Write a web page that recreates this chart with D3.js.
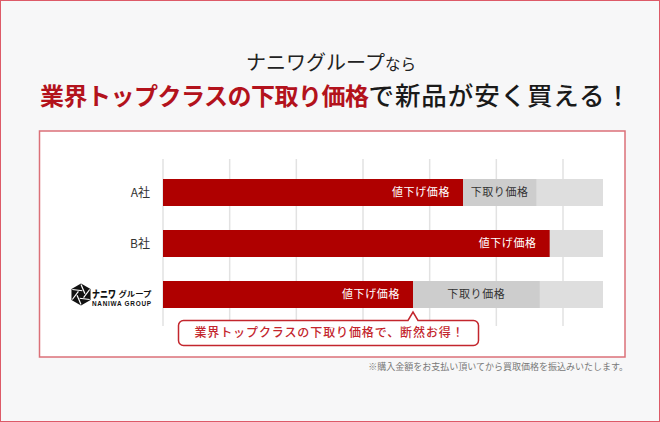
<!DOCTYPE html>
<html><head><meta charset="utf-8">
<script src="https://cdn.jsdelivr.net/npm/d3@7/dist/d3.min.js"></script>
<style>
html,body{margin:0;padding:0;background:#f7f7f8;}
svg{display:block;font-family:"Noto Sans CJK JP","Noto Sans",sans-serif;}
</style></head>
<body>
<svg id="chart" width="660" height="422"></svg>
<script>
// ---- data ----
const categories = ["A社", "B社", "ナニワグループ"];
const discountEnd = [45, 58, 37.5];      // 値下げ価格 (red segment end)
const tradeInEnd  = [56, null, 56.5];    // 下取り価格 (gray segment end)
const trackMax = 66;
const gridTicks = [0, 10, 20, 30, 40, 50, 60];
const discountLabel = "値下げ価格";
const tradeInLabel = "下取り価格";
const titleLine1 = "ナニワグループ";
const titleLine1b = "なら";
const titleRed = "業界トップクラスの下取り価格";
const titleBlack = "で新品が安く買える！";
const calloutText = "業界トップクラスの下取り価格で、断然お得！";
const footnote = "※購入金額をお支払い頂いてから買取価格を振込みいたします。";

const svg = d3.select("#chart");
const W = 660, H = 422;

// background + outer border
svg.append("rect").attr("x",0.5).attr("y",0.5).attr("width",W-1).attr("height",H-1)
  .attr("fill","#f7f7f8").attr("stroke","#dd5a68").attr("stroke-width",1);

// titles
svg.append("text").attr("x",331).attr("y",70).attr("text-anchor","middle")
  .attr("fill","#222").attr("font-size",20).attr("font-weight",400)
  .call(t=>{
    t.append("tspan").text(titleLine1);
    t.append("tspan").attr("font-size",15.5).text(titleLine1b);
  });
svg.append("text").attr("x",40).attr("y",105).attr("text-anchor","start")
  .call(t=>{
    t.append("tspan").attr("fill","#b3121c").attr("font-size",24).attr("font-weight",700)
      .attr("letter-spacing",-0.5).text(titleRed);
    t.append("tspan").attr("fill","#1a1a1a").attr("font-size",25.5).attr("font-weight",500)
      .attr("letter-spacing",0.9).text(titleBlack);
  });

// panel
svg.append("rect").attr("x",39.5).attr("y",131).attr("width",585.5).attr("height",226)
  .attr("fill","#fff").attr("stroke","#db7078").attr("stroke-width",1.5);

// scales
const x = d3.scaleLinear().domain([0, trackMax]).range([163, 603]);
const y = d3.scaleBand().domain(categories).range([179, 308]).paddingInner(24/51).paddingOuter(0);

// grid
svg.append("g").selectAll("line").data(gridTicks).join("line")
  .attr("x1",d=>x(d)).attr("x2",d=>x(d)).attr("y1",159).attr("y2",326)
  .attr("stroke","#e2e2e2").attr("stroke-width",1.5);

const rows = categories.map((c,i)=>({c, d:discountEnd[i], t:tradeInEnd[i]}));
const g = svg.append("g");
// track
g.selectAll("rect.track").data(rows).join("rect").attr("class","track")
  .attr("x",x(0)).attr("y",d=>y(d.c)).attr("width",x(trackMax)-x(0)).attr("height",y.bandwidth())
  .attr("fill","#dedede");
// trade-in segment
g.selectAll("rect.trade").data(rows.filter(d=>d.t!=null)).join("rect").attr("class","trade")
  .attr("x",d=>x(d.d)).attr("y",d=>y(d.c)).attr("width",d=>x(d.t)-x(d.d)).attr("height",y.bandwidth())
  .attr("fill","#cdcdcd");
// discount segment
g.selectAll("rect.disc").data(rows).join("rect").attr("class","disc")
  .attr("x",x(0)).attr("y",d=>y(d.c)).attr("width",d=>x(d.d)-x(0)).attr("height",y.bandwidth())
  .attr("fill","#af0000");
// labels in bars
g.selectAll("text.dl").data(rows).join("text").attr("class","dl")
  .attr("x",d=>x(d.d)-13).attr("y",d=>y(d.c)+y.bandwidth()/2).attr("dy","0.36em")
  .attr("text-anchor","end").attr("fill","#fff").attr("font-size",11).attr("letter-spacing",0.6)
  .text(discountLabel);
g.selectAll("text.tl").data(rows.filter(d=>d.t!=null)).join("text").attr("class","tl")
  .attr("x",d=>(x(d.d)+x(d.t))/2).attr("y",d=>y(d.c)+y.bandwidth()/2).attr("dy","0.36em")
  .attr("text-anchor","middle").attr("fill","#333").attr("font-size",11).attr("letter-spacing",0.6)
  .text(tradeInLabel);

// category labels
rows.slice(0,2).forEach(d=>{
  svg.append("text").attr("x",150).attr("y",y(d.c)+y.bandwidth()/2).attr("dy","0.36em")
    .attr("text-anchor","end").attr("fill","#333").attr("font-size",12).text(d.c);
});
// logo for Naniwa
const ly = y(categories[2]) + y.bandwidth()/2;
const logo = svg.append("g");
const hex = d3.range(6).map(k=>{const a=Math.PI/3*k - Math.PI/2; return [81+11*Math.cos(a), ly+11*Math.sin(a)];});
logo.append("path").attr("d","M"+hex.join("L")+"Z").attr("fill","#111");
d3.range(6).forEach(k=>{
  const a=Math.PI/3*k - Math.PI/2;
  const a2=a+Math.PI/3+0.35;
  logo.append("line")
    .attr("x1",81+10*Math.cos(a)).attr("y1",ly+10*Math.sin(a))
    .attr("x2",81+4*Math.cos(a2)).attr("y2",ly+4*Math.sin(a2))
    .attr("stroke","#fff").attr("stroke-width",1.2);
});
logo.append("text").attr("transform",`translate(92,${ly+3.5}) scale(1,1.3)`)
  .attr("font-size",8).attr("font-weight",900)
  .attr("fill","#111").text("ナニワ");
logo.append("text").attr("x",118.5).attr("y",ly+2.5).attr("font-size",7.5).attr("font-weight",700)
  .attr("fill","#111").attr("textLength",33).attr("lengthAdjust","spacingAndGlyphs").text("グループ");
logo.append("text").attr("x",92).attr("y",ly+11.5).attr("font-size",6.4).attr("font-weight",700)
  .attr("font-family","Liberation Sans, Arial, sans-serif")
  .attr("fill","#111").attr("textLength",59).text("NANIWA GROUP");

// callout
const px = x(discountEnd[2]);
const bx0=178.5, bx1=478.5, by0=320.5, by1=345.5, r=5;
const p = d3.path();
p.moveTo(bx0+r,by0);
p.lineTo(px-5,by0); p.lineTo(px,312); p.lineTo(px+5,by0);
p.lineTo(bx1-r,by0); p.arcTo(bx1,by0,bx1,by0+r,r);
p.lineTo(bx1,by1-r); p.arcTo(bx1,by1,bx1-r,by1,r);
p.lineTo(bx0+r,by1); p.arcTo(bx0,by1,bx0,by1-r,r);
p.lineTo(bx0,by0+r); p.arcTo(bx0,by0,bx0+r,by0,r);
p.closePath();
svg.append("path").attr("d",p.toString()).attr("fill","#fff").attr("stroke","#c3262d").attr("stroke-width",1.5);
svg.append("text").attr("x",(bx0+bx1)/2+1).attr("y",333).attr("dy","0.36em").attr("text-anchor","middle")
  .attr("fill","#c3262d").attr("font-size",12).attr("font-weight",500).attr("letter-spacing",0.9)
  .text(calloutText);

// footnote
svg.append("text").attr("x",628).attr("y",367).attr("dy","0.36em").attr("text-anchor","end")
  .attr("fill","#777").attr("font-size",9).text(footnote);
</script>
</body></html>
